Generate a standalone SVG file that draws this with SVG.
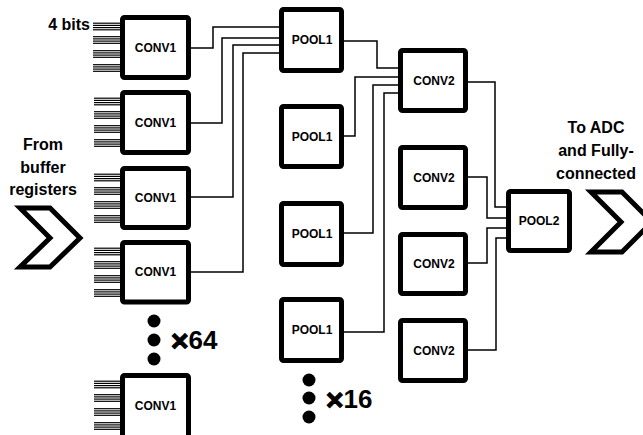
<svg xmlns="http://www.w3.org/2000/svg" xmlns:xlink="http://www.w3.org/1999/xlink" width="643" height="435" viewBox="0 0 643 435">
<style>
.box{fill:#fff;stroke:#000;stroke-width:5;}
.lbl{font-family:"Liberation Sans",Arial,sans-serif;font-weight:bold;font-size:12px;text-anchor:middle;fill:#000;}
.big{font-family:"Liberation Sans",Arial,sans-serif;font-weight:bold;font-size:16px;text-anchor:middle;fill:#000;}
.cnt{font-family:"Liberation Sans",Arial,sans-serif;font-weight:bold;font-size:26px;fill:#000;}
.x{font-size:30px;stroke:#000;stroke-width:1.2;}
.wire{fill:none;stroke:#000;stroke-width:1.5;}
.chev{fill:#fff;stroke:#000;stroke-width:5;stroke-linejoin:miter;}
</style>
<defs>
<g id="bus">
<line x1="0" y1="-3.3" x2="27" y2="-3.3" stroke="#000" stroke-width="1.2"/>
<line x1="0" y1="-1.1" x2="27" y2="-1.1" stroke="#000" stroke-width="1.2"/>
<line x1="0" y1="1.1" x2="27" y2="1.1" stroke="#000" stroke-width="1.2"/>
<line x1="0" y1="3.3" x2="27" y2="3.3" stroke="#000" stroke-width="1.2"/>
</g>
<g id="buses">
<use xlink:href="#bus" x="0" y="11.5"/>
<use xlink:href="#bus" x="0" y="25"/>
<use xlink:href="#bus" x="0" y="39"/>
<use xlink:href="#bus" x="0" y="53"/>
</g>
</defs>

<g id="connectors">
<path class="wire" d="M191,48 H213 V27 H281"/>
<path class="wire" d="M191,123 H222 V38 H281"/>
<path class="wire" d="M191,197 H233 V45 H281"/>
<path class="wire" d="M191,272 H243 V53 H281"/>
<path class="wire" d="M344,41 H377 V68 H400"/>
<path class="wire" d="M344,136 H355 V77 H400"/>
<path class="wire" d="M344,233 H373 V85 H400"/>
<path class="wire" d="M344,332 H384 V93 H400"/>
<path class="wire" d="M468,82 H495 V207 H508"/>
<path class="wire" d="M468,177 H487 V218 H508"/>
<path class="wire" d="M468,263 H487 V228 H508"/>
<path class="wire" d="M468,350 H496 V238 H508"/>
</g>

<g id="conv1-1"><use xlink:href="#buses" x="93" y="15"/><rect class="box" x="122.5" y="17.5" width="66" height="60" rx="2"/><text class="lbl" x="155.5" y="51.5">CONV1</text></g>
<g id="conv1-2"><use xlink:href="#buses" x="94" y="90"/><rect class="box" x="122.5" y="92.5" width="66" height="60" rx="2"/><text class="lbl" x="155.5" y="126.5">CONV1</text></g>
<g id="conv1-3"><use xlink:href="#buses" x="94" y="166"/><rect class="box" x="122.5" y="168.5" width="66" height="59" rx="2"/><text class="lbl" x="155.5" y="202">CONV1</text></g>
<g id="conv1-4"><use xlink:href="#buses" x="94" y="240"/><rect class="box" x="122.5" y="242.5" width="66" height="59.5" rx="2"/><text class="lbl" x="155.5" y="276">CONV1</text></g>
<g id="conv1-5"><use xlink:href="#buses" x="94" y="373"/><rect class="box" x="122.5" y="375.5" width="66" height="62" rx="2"/><text class="lbl" x="155.5" y="410">CONV1</text></g>

<g id="pool1-1"><rect class="box" x="281.5" y="9.5" width="60" height="61" rx="2"/><text class="lbl" x="312" y="44">POOL1</text></g>
<g id="pool1-2"><rect class="box" x="281.5" y="106.5" width="60" height="60" rx="2"/><text class="lbl" x="312" y="140.5">POOL1</text></g>
<g id="pool1-3"><rect class="box" x="281.5" y="203.5" width="60" height="61" rx="2"/><text class="lbl" x="312" y="238">POOL1</text></g>
<g id="pool1-4"><rect class="box" x="281.5" y="299.5" width="60" height="61" rx="2"/><text class="lbl" x="312" y="334">POOL1</text></g>

<g id="conv2-1"><rect class="box" x="400.5" y="50.5" width="65" height="60" rx="2"/><text class="lbl" x="434" y="84.5">CONV2</text></g>
<g id="conv2-2"><rect class="box" x="400.5" y="147.5" width="65" height="60" rx="2"/><text class="lbl" x="434" y="181.5">CONV2</text></g>
<g id="conv2-3"><rect class="box" x="400.5" y="234.5" width="65" height="59" rx="2"/><text class="lbl" x="434" y="268">CONV2</text></g>
<g id="conv2-4"><rect class="box" x="400.5" y="320.5" width="65" height="60" rx="2"/><text class="lbl" x="434" y="354.5">CONV2</text></g>

<g id="pool2"><rect class="box" x="508.5" y="191.5" width="61" height="59" rx="2"/><text class="lbl" x="539" y="225">POOL2</text></g>

<g id="input">
<text class="big" x="43" y="150">From</text>
<text class="big" x="43" y="173">buffer</text>
<text class="big" x="43" y="195">registers</text>
<polygon class="chev" points="20,208 50,208 80,238 50,267 20,267 50,238"/>
</g>

<g id="output">
<text class="big" x="596" y="133">To ADC</text>
<text class="big" x="596" y="156">and Fully-</text>
<text class="big" x="596" y="179">connected</text>
<polygon class="chev" points="591,192 622,192 652,222 622,252 591,252 621,222"/>
</g>

<g id="bits-label"><text class="big" x="90" y="30" style="text-anchor:end">4 bits</text></g>

<g id="rep64">
<circle cx="154" cy="321" r="6.5"/><circle cx="154" cy="340" r="6.5"/><circle cx="154" cy="359" r="6.5"/>
<text class="cnt" x="171" y="349"><tspan class="x" dy="2">×</tspan><tspan dy="-2">64</tspan></text>
</g>
<g id="rep16">
<circle cx="309" cy="380" r="6.5"/><circle cx="309" cy="398" r="6.5"/><circle cx="309" cy="417" r="6.5"/>
<text class="cnt" x="326" y="408"><tspan class="x" dy="2">×</tspan><tspan dy="-2">16</tspan></text>
</g>
</svg>
